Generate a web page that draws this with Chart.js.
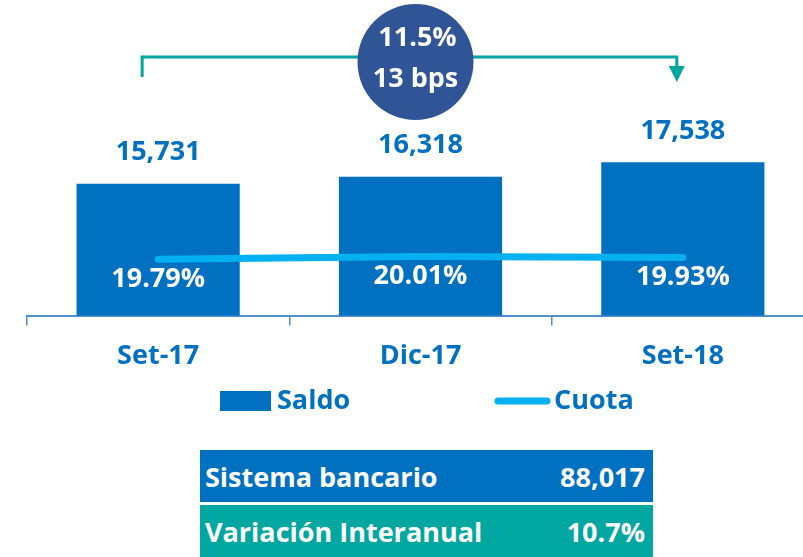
<!DOCTYPE html>
<html>
<head>
<meta charset="utf-8">
<script src="https://cdn.jsdelivr.net/npm/chart.js@4.4.1/dist/chart.umd.min.js"></script>
<style>
  html, body { margin: 0; padding: 0; background: #fff; overflow: hidden; width: 803px; height: 557px; }
  #wrap { position: absolute; left: 0; top: 0; width: 830px; height: 429px; }
  .tbl { position: absolute; left: 200px; top: 450px; width: 453px; font-family: "Open Sans", Lato, sans-serif; font-weight: bold; font-size: 27px; color: #fff; }
  .row { display: flex; justify-content: space-between; align-items: center; height: 52px; padding: 0 8px 0 5px; box-sizing: border-box; }
  .row + .row { margin-top: 3px; }
</style>
</head>
<body>
<div id="wrap"><canvas id="chart" width="830" height="429"></canvas></div>
<div class="tbl" id="tbl"></div>
<script>
// data
const categories = ["Set-17", "Dic-17", "Set-18"];
const saldo = [15731, 16318, 17538];
const cuota = [19.79, 20.01, 19.93];
const growthText = ["11.5%", "13 bps"];
const tableRows = [
  ["Sistema bancario", "88,017"],
  ["Variación Interanual", "10.7%"],
];

const BLUE = "#0070C0";
const CYAN = "#00B0F0";
const TEAL = "#00A6A0";
const NAVY = "#2F5597";
const FONT = "'Open Sans', Lato, sans-serif";

// table under the chart
const tbl = document.getElementById("tbl");
tableRows.forEach((r, i) => {
  const div = document.createElement("div");
  div.className = "row";
  div.style.background = i === 0 ? BLUE : TEAL;
  div.innerHTML = `<span>${r[0]}</span><span>${r[1]}</span>`;
  tbl.appendChild(div);
});

// value labels on bars and line
const labelsPlugin = {
  id: "labels",
  afterDatasetsDraw(chart) {
    const ctx = chart.ctx;
    ctx.save();
    ctx.font = `bold 27px ${FONT}`;
    ctx.textAlign = "center";
    ctx.textBaseline = "middle";
    chart.getDatasetMeta(0).data.forEach((el, i) => {
      ctx.fillStyle = BLUE;
      ctx.fillText(saldo[i].toLocaleString("en-US"), el.x, el.y - 31);
    });
    chart.getDatasetMeta(1).data.forEach((el, i) => {
      ctx.fillStyle = "#fff";
      ctx.fillText(cuota[i].toFixed(2) + "%", el.x, el.y + 20);
    });
    ctx.restore();
  },
};

// bracket, circle and legend
const extrasPlugin = {
  id: "extras",
  afterDraw(chart) {
    const ctx = chart.ctx;
    const x = chart.scales.x;
    const x0 = x.getPixelForValue(0) - 16;
    const x2 = x.getPixelForValue(2) - 6;
    const yLine = 57;
    ctx.save();
    // bracket
    ctx.strokeStyle = TEAL;
    ctx.lineWidth = 3;
    ctx.beginPath();
    ctx.moveTo(x0, 77);
    ctx.lineTo(x0, yLine);
    ctx.lineTo(x2, yLine);
    ctx.lineTo(x2, 68);
    ctx.stroke();
    ctx.fillStyle = TEAL;
    ctx.beginPath();
    ctx.moveTo(x2 - 8, 66);
    ctx.lineTo(x2 + 8, 66);
    ctx.lineTo(x2, 82);
    ctx.closePath();
    ctx.fill();
    // circle
    const cx = x.getPixelForValue(1) - 5;
    ctx.fillStyle = NAVY;
    ctx.beginPath();
    ctx.arc(cx, 62, 58, 0, Math.PI * 2);
    ctx.fill();
    ctx.fillStyle = "#fff";
    ctx.font = `bold 27px ${FONT}`;
    ctx.textAlign = "center";
    ctx.textBaseline = "middle";
    ctx.fillText(growthText[0], cx + 2, 38);
    ctx.fillText(growthText[1], cx, 79);

    // legend
    const ds = chart.data.datasets;
    ctx.font = `bold 27px ${FONT}`;
    ctx.textAlign = "left";
    ctx.fillStyle = ds[0].backgroundColor;
    ctx.fillRect(220, 391, 51, 20);
    ctx.fillStyle = BLUE;
    ctx.fillText(ds[0].label, 277, 401);
    ctx.strokeStyle = ds[1].borderColor;
    ctx.lineWidth = 7;
    ctx.lineCap = "round";
    ctx.beginPath();
    ctx.moveTo(498, 401);
    ctx.lineTo(547, 401);
    ctx.stroke();
    ctx.fillText(ds[1].label, 554, 401);
    ctx.restore();
  },
};

const chart = new Chart(document.getElementById("chart").getContext("2d"), {
  type: "bar",
  data: {
    labels: categories,
    datasets: [
      {
        label: "Saldo",
        data: saldo,
        backgroundColor: BLUE,
        barPercentage: 1,
        categoryPercentage: 0.622,
        yAxisID: "y",
        order: 2,
      },
      {
        type: "line",
        label: "Cuota",
        data: cuota,
        borderColor: CYAN,
        backgroundColor: CYAN,
        borderWidth: 7,
        borderCapStyle: "round",
        pointRadius: 0,
        tension: 0,
        fill: false,
        yAxisID: "y2",
        order: 1,
      },
    ],
  },
  options: {
    responsive: false,
    animation: false,
    layout: { padding: { left: 27, right: 16, top: 10, bottom: 41 } },
    plugins: {
      legend: { display: false },
      tooltip: { enabled: false },
    },
    scales: {
      x: {
        offset: true,
        grid: {
          offset: true,
          drawOnChartArea: false,
          drawTicks: true,
          tickLength: 10,
          color: "#4F8FCF",
          lineWidth: 1.5,
        },
        border: { display: true, color: "#4F8FCF", width: 2 },
        ticks: {
          color: BLUE,
          padding: 15,
          font: { family: FONT, size: 27, weight: "bold" },
        },
      },
      y: { display: false, min: 4630, max: 30361 },
      y2: { display: false, min: 15.04, max: 40.79 },
    },
  },
  plugins: [labelsPlugin, extrasPlugin],
});
</script>
</body>
</html>
